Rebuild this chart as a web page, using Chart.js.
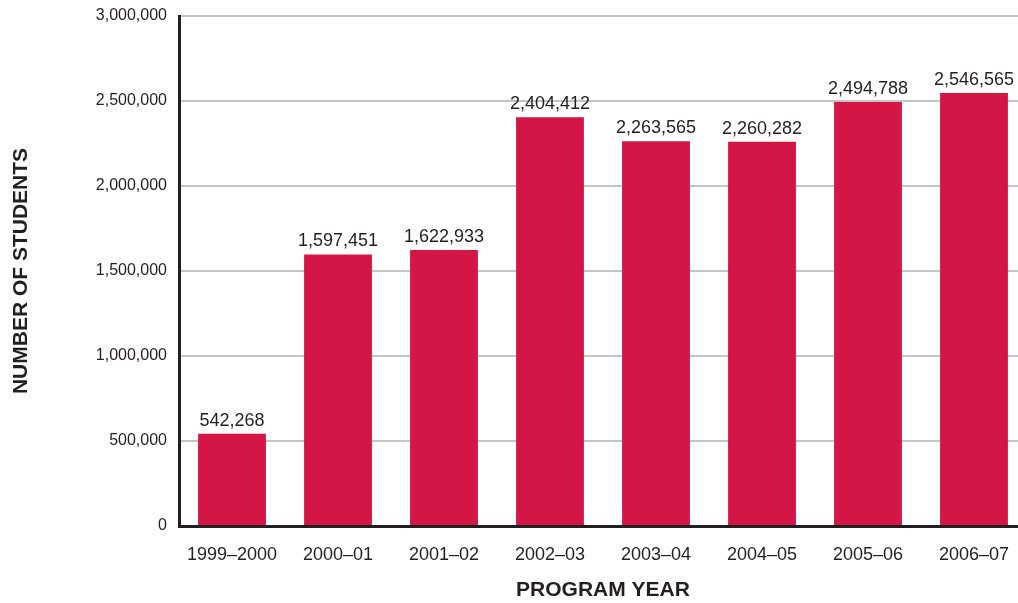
<!DOCTYPE html>
<html>
<head>
<meta charset="utf-8">
<script src="https://cdn.jsdelivr.net/npm/chart.js@4"></script>
<style>
  html, body { margin: 0; padding: 0; overflow: hidden; background: #fff; }
  #wrap { width: 1027px; height: 603px; }
</style>
</head>
<body>
<div id="wrap"><canvas id="chart" width="1027" height="603"></canvas></div>
<script>
const years = ['1999\u20132000', '2000\u201301', '2001\u201302', '2002\u201303', '2003\u201304', '2004\u201305', '2005\u201306', '2006\u201307'];
const students = [542268, 1597451, 1622933, 2404412, 2263565, 2260282, 2494788, 2546565];
const yTicks = [0, 500000, 1000000, 1500000, 2000000, 2500000, 3000000];

const ink = '#231f20';
const font = 'Arial, "Liberation Sans", sans-serif';

// value labels above each bar
const barLabels = {
    id: 'barLabels',
    afterDatasetsDraw(chart) {
        const ctx = chart.ctx;
        const meta = chart.getDatasetMeta(0);
        ctx.save();
        ctx.font = '18px ' + font;
        ctx.fillStyle = ink;
        ctx.textAlign = 'center';
        ctx.textBaseline = 'alphabetic';
        meta.data.forEach(function(bar, i) {
            ctx.fillText(students[i].toLocaleString('en-US'), bar.x, bar.y - 8);
        });
        ctx.restore();
    }
};

new Chart(document.getElementById('chart'), {
    type: 'bar',
    data: {
        labels: years,
        datasets: [{
            data: students,
            backgroundColor: '#d31645',
            categoryPercentage: 1,
            barPercentage: 0.64
        }]
    },
    options: {
        responsive: false,
        animation: false,
        layout: { padding: { top: 16, left: 0, right: 0, bottom: 0 } },
        plugins: {
            legend: { display: false },
            tooltip: { enabled: false }
        },
        scales: {
            x: {
                grid: { display: false },
                border: { color: ink, width: 3 },
                ticks: { color: ink, font: { size: 18, family: font }, padding: 10 },
                title: {
                    display: true,
                    text: 'PROGRAM YEAR',
                    color: ink,
                    font: { size: 21, weight: 'bold', family: font },
                    padding: { top: 10, bottom: 0 }
                },
                afterFit(scale) { scale.height = 77; }
            },
            y: {
                min: 0,
                max: 3000000,
                afterBuildTicks(scale) { scale.ticks = yTicks.map(v => ({ value: v })); },
                grid: { color: '#c4c4c4', lineWidth: 2, drawTicks: false },
                border: { color: ink, width: 3 },
                ticks: {
                    color: ink,
                    font: { size: 16, family: font },
                    padding: 12,
                    callback: v => v.toLocaleString('en-US')
                },
                title: {
                    display: true,
                    text: 'NUMBER OF STUDENTS',
                    color: ink,
                    font: { size: 21, weight: 'bold', family: font },
                    padding: { top: 9, bottom: 0 }
                },
                afterFit(scale) {
                    scale.width = 179;
                    scale.paddingTop = 0;
                    scale.paddingBottom = 0;
                }
            }
        }
    },
    plugins: [barLabels]
});
</script>
</body>
</html>
